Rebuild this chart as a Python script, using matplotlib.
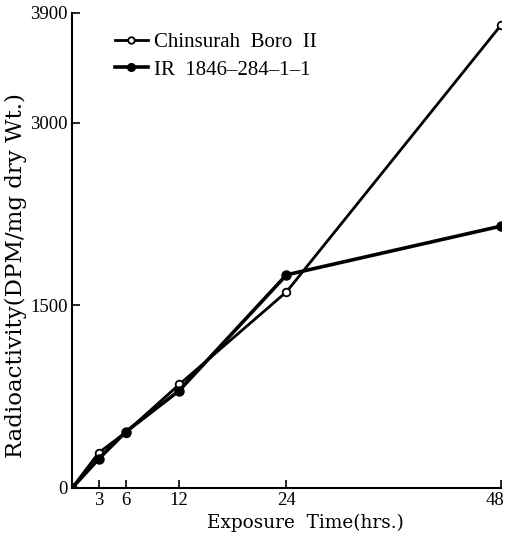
import matplotlib
matplotlib.use("Agg")
import matplotlib.pyplot as plt
import matplotlib.transforms as mtransforms

hours = [0, 3, 6, 12, 24, 48]
chinsurah = [0, 290, 455, 850, 1610, 3800]
ir1846 = [0, 240, 460, 800, 1750, 2150]
xticks = [3, 6, 12, 24, 48]
yticks = [0, 1500, 3000, 3900]

plt.rcParams['font.family'] = ['Liberation Serif', 'DejaVu Serif']

fig = plt.figure(figsize=(5.05, 5.37), dpi=100)
ax = fig.add_axes([0.1426, 0.0913, 0.8494, 0.8845])

ax.plot(hours, chinsurah, color='black', lw=2.0, marker='o', ms=5.5,
        mfc='white', mec='black', mew=1.3, label='Chinsurah  Boro  II')
ax.plot(hours, ir1846, color='black', lw=2.6, marker='o', ms=6.5,
        mfc='black', mec='black', label='IR  1846–284–1–1')

ax.set_xlim(0, 48)
ax.set_ylim(0, 3900)
ax.set_xticks(xticks)
ax.set_yticks(yticks)
ax.tick_params(direction='in', length=6, width=1.2, labelsize=13.5, pad=3)
for s in ['top', 'right']:
    ax.spines[s].set_visible(False)
for s in ['left', 'bottom']:
    ax.spines[s].set_linewidth(1.5)

# shift the last x tick label left so it stays inside the figure
lbl = ax.get_xticklabels()[-1]
lbl.set_transform(lbl.get_transform() + mtransforms.ScaledTranslation(-6/100, 0, fig.dpi_scale_trans))

ax.set_xlabel('Exposure  Time(hrs.)', fontsize=13.3, family=['DejaVu Serif'])
ax.set_ylabel('Radioactivity(DPM/mg dry Wt.)', fontsize=16.5, family=['DejaVu Serif'])
ax.xaxis.set_label_coords(0.545, -0.055)
ax.yaxis.set_label_coords(-0.105, 0.448)

leg = ax.legend(loc='upper left', bbox_to_anchor=(0.08, 0.977), frameon=False,
                prop={'size': 15}, handlelength=1.6, handletextpad=0.3,
                labelspacing=0.4, borderaxespad=0, markerscale=0.85)

fig.savefig('out.png', dpi=100)
